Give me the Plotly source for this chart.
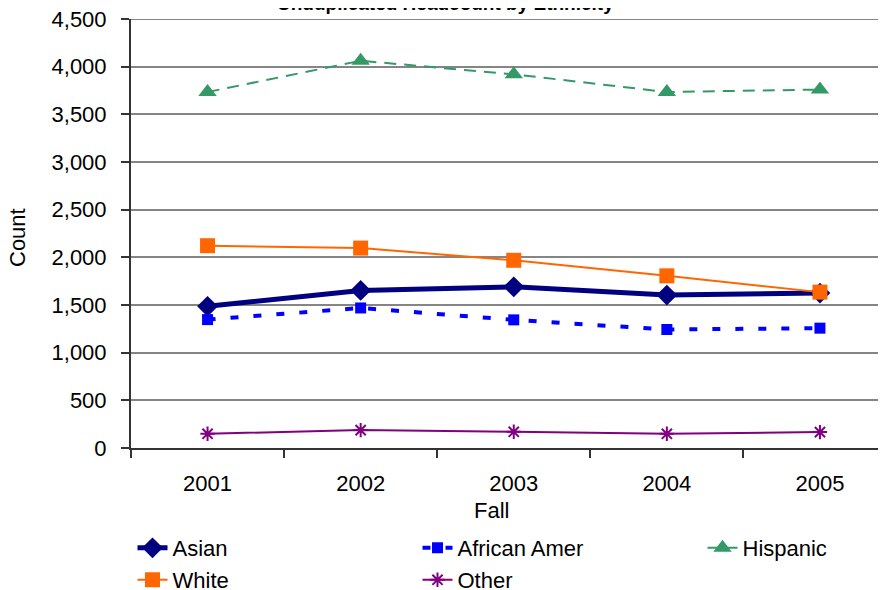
import plotly.graph_objects as go

years = ["2001", "2002", "2003", "2004", "2005"]
asian = [1486, 1653, 1691, 1604, 1625]
african_amer = [1347, 1469, 1344, 1243, 1257]
hispanic = [3734, 4062, 3920, 3734, 3760]
white = [2122, 2097, 1969, 1806, 1635]
other = [149, 188, 170, 149, 167]
y_max = 4500

FONT = "Liberation Sans, Arial, sans-serif"

# page body has an 8px margin; targets below are in window pixels
OX, OY = 8, 8
W, H = 886, 590
L, T, B = 131 - OX, 19 - OY, (H + OY) - 448
PLOT_W = W - L
PLOT_H = H - T - B
CAT = 153.1


def px(xw):
    return (xw - OX - L) / PLOT_W


def py(yw):
    return (448 - yw) / PLOT_H


fig = go.Figure()

fig.add_trace(go.Scatter(
    x=years, y=asian, name="Asian", mode="lines+markers",
    line=dict(color="#000080", width=5),
    marker=dict(symbol="diamond", size=16, color="#000080"),
    legend="legend", legendwidth=240))
fig.add_trace(go.Scatter(
    x=years, y=african_amer, name="African Amer", mode="lines+markers",
    line=dict(color="#0000FF", width=4, dash="8px,15px"),
    marker=dict(symbol="square", size=11, color="#0000FF"),
    legend="legend", legendwidth=240))
fig.add_trace(go.Scatter(
    x=years, y=hispanic, name="Hispanic", mode="lines+markers",
    line=dict(color="#339966", width=2, dash="12px,8px"),
    marker=dict(symbol="triangle-up", size=16, color="#339966"),
    legend="legend", legendwidth=110))
fig.add_trace(go.Scatter(
    x=years, y=white, name="White", mode="lines+markers",
    line=dict(color="#FF6600", width=2),
    marker=dict(symbol="square", size=15, color="#FF6600"),
    legend="legend2", legendwidth=240))
fig.add_trace(go.Scatter(
    x=years, y=other, name="Other", mode="lines+markers",
    line=dict(color="#800080", width=2),
    marker=dict(symbol="asterisk-open", size=12, color="#800080",
                line=dict(color="#800080", width=2)),
    legend="legend2", legendwidth=110))

fig.update_layout(
    width=W, height=H,
    margin=dict(l=L, r=0, t=T, b=B, autoexpand=False),
    paper_bgcolor="white", plot_bgcolor="white",
    font=dict(family=FONT, size=22, color="black"),
    showlegend=True,
    legend=dict(orientation="h", x=px(132.5), xanchor="left",
                y=py(548), yanchor="middle",
                font=dict(family=FONT, size=22, color="black"),
                bgcolor="rgba(0,0,0,0)", traceorder="normal"),
    legend2=dict(orientation="h", x=px(132.5), xanchor="left",
                 y=py(580), yanchor="middle",
                 font=dict(family=FONT, size=22, color="black"),
                 bgcolor="rgba(0,0,0,0)", traceorder="normal"),
    xaxis=dict(type="category", range=[-0.5, -0.5 + PLOT_W / CAT],
               showline=True, linecolor="#333333", linewidth=2,
               ticks="outside", tickson="boundaries", ticklen=8,
               tickcolor="#333333", tickwidth=1.5,
               showgrid=False, zeroline=False,
               ticklabelstandoff=15,
               tickfont=dict(family=FONT, size=22, color="black")),
    yaxis=dict(range=[0, y_max], dtick=500, tickformat=",",
               showline=True, linecolor="#333333", linewidth=2,
               ticks="outside", ticklen=8, tickcolor="#333333", tickwidth=1.5,
               showgrid=True, gridcolor="#858585", gridwidth=2,
               zeroline=False, ticklabelstandoff=10,
               ticklabeloverflow="allow",
               tickfont=dict(family=FONT, size=22, color="black")),
    shapes=[dict(type="line", xref="paper", yref="y", x0=0, x1=1,
                 y0=y_max, y1=y_max, layer="below",
                 line=dict(color="#858585", width=2))],
    annotations=[
        dict(text="<b>Unduplicated Headcount by Ethnicity</b>",
             xref="paper", yref="paper",
             x=px(445), y=py(3.5),
             xanchor="center", yanchor="middle", showarrow=False,
             font=dict(family=FONT, size=19, color="black")),
        dict(text="Count", xref="paper", yref="paper",
             x=px(18), y=py(238),
             xanchor="center", yanchor="middle", textangle=-90,
             showarrow=False, font=dict(family=FONT, size=22, color="black")),
        dict(text="Fall", xref="paper", yref="paper",
             x=px(491), y=py(510),
             xanchor="center", yanchor="middle",
             showarrow=False, font=dict(family=FONT, size=22, color="black")),
    ],
)

fig.write_html("out.html")
